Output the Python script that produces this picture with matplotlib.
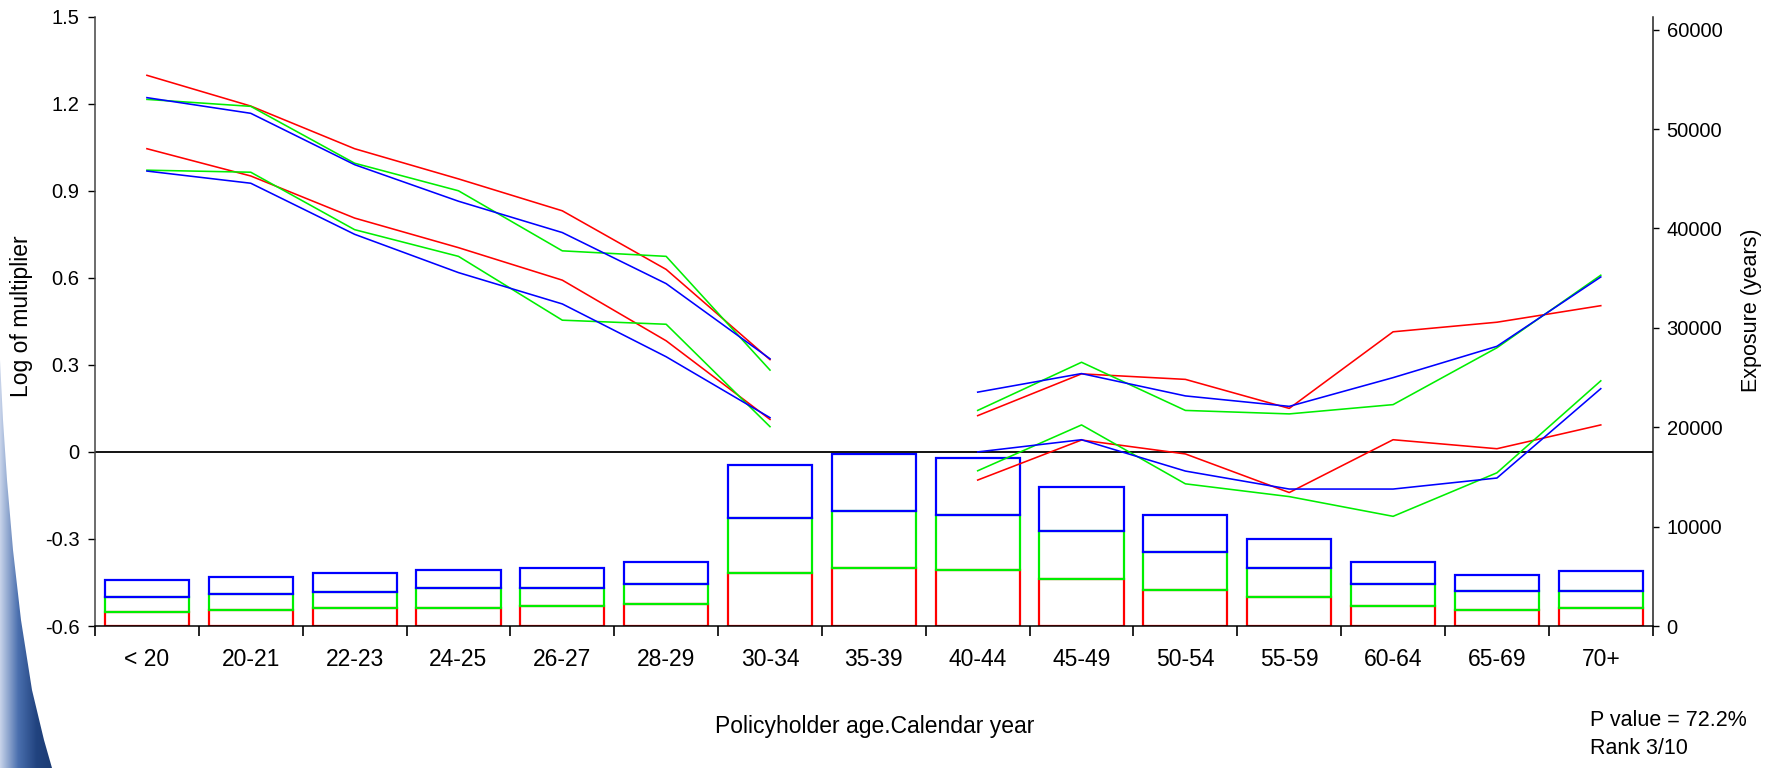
import numpy as np
import matplotlib
matplotlib.use("Agg")
import matplotlib.pyplot as plt
from matplotlib.patches import Polygon

plt.rcParams['font.family'] = ['Liberation Sans', 'DejaVu Sans']

nan = np.nan
categories = ["< 20", "20-21", "22-23", "24-25", "26-27", "28-29", "30-34", "35-39",
              "40-44", "45-49", "50-54", "55-59", "60-64", "65-69", "70+"]

# Log of multiplier confidence bands (upper / lower) for three models
red_upper   = [1.298, 1.192, 1.045, 0.941, 0.831, 0.629, 0.318, nan, 0.125, 0.269, 0.250, 0.150, 0.414, 0.447, 0.504]
green_upper = [1.215, 1.191, 0.995, 0.900, 0.693, 0.674, 0.282, nan, 0.143, 0.309, 0.143, 0.131, 0.163, 0.359, 0.609]
blue_upper  = [1.221, 1.167, 0.990, 0.864, 0.756, 0.580, 0.321, nan, 0.206, 0.270, 0.193, 0.157, 0.256, 0.364, 0.603]
red_lower   = [1.045, 0.951, 0.806, 0.704, 0.592, 0.383, 0.112, nan, -0.097, 0.041, -0.007, -0.140, 0.042, 0.011, 0.093]
green_lower = [0.971, 0.964, 0.766, 0.674, 0.454, 0.440, 0.087, nan, -0.065, 0.093, -0.110, -0.154, -0.222, -0.072, 0.245]
blue_lower  = [0.968, 0.926, 0.750, 0.618, 0.510, 0.328, 0.118, nan, 0.000, 0.042, -0.066, -0.128, -0.128, -0.090, 0.218]

# Exposure (years), stacked segments
exposure_red   = [1410, 1610, 1810, 1840, 2010, 2180, 5300, 5840, 5630, 4730, 3620, 2920, 1980, 1640, 1810]
exposure_green = [1510, 1640, 1640, 1980, 1810, 2010, 5530, 5730, 5540, 4800, 3850, 2920, 2210, 1850, 1680]
exposure_blue  = [1680, 1680, 1880, 1840, 2010, 2250, 5340, 5700, 5730, 4420, 3730, 2940, 2250, 1610, 2010]

left_ticks = [-0.6, -0.3, 0, 0.3, 0.6, 0.9, 1.2, 1.5]
left_ticklabels = ["-0.6", "-0.3", "0", "0.3", "0.6", "0.9", "1.2", "1.5"]
right_ticks = [0, 10000, 20000, 30000, 40000, 50000, 60000]

RED, GREEN, BLUE = "#ff0000", "#00ee00", "#0000ff"

W, H = 1775, 768
fig = plt.figure(figsize=(W / 100, H / 100), dpi=100)
fig.patch.set_facecolor("white")

# decorative blue swoosh at bottom-left (slide background)
bg = fig.add_axes([0, 0, 1, 1], zorder=-5)
bg.set_xlim(0, W); bg.set_ylim(H, 0); bg.axis("off")
grad = np.linspace(0, 1, 256).reshape(1, -1)
img = bg.imshow(grad, extent=[0, 55, H, 360], cmap=matplotlib.colors.LinearSegmentedColormap.from_list(
    "sw", ["#c8d4ea", "#4a6fae", "#21437f", "#1b3a72"]), aspect="auto")
clip = Polygon([(0, 360), (3, 420), (7, 480), (13, 550), (21, 620), (32, 690), (44, 740), (52, 768), (0, 768)],
               closed=True, transform=bg.transData, facecolor="none", edgecolor="none")
bg.add_patch(clip)
img.set_clip_path(clip)

x = np.arange(len(categories))
ax = fig.add_axes([95 / W, (H - 626) / H, (1652.7 - 95) / W, (626 - 16.7) / H])
ax2 = ax.twinx()
ax.set_zorder(2); ax2.set_zorder(1)
ax.patch.set_visible(False); ax2.patch.set_visible(False)

# bars (exposure)
bw = 0.81
r = np.array(exposure_red); g = np.array(exposure_green); b = np.array(exposure_blue)
ax2.bar(x, r, width=bw, fill=False, edgecolor=RED, linewidth=1.6)
ax2.bar(x, g, bottom=r, width=bw, fill=False, edgecolor=GREEN, linewidth=1.6)
ax2.bar(x, b, bottom=r + g, width=bw, fill=False, edgecolor=BLUE, linewidth=1.6)
ax2.set_ylim(0, 61300)
ax2.set_yticks(right_ticks)
ax2.set_yticklabels([str(t) for t in right_ticks])
ax2.tick_params(axis="y", direction="out", length=4, width=1, labelsize=14.5, pad=6)
ax2.set_ylabel("")

# lines (log multiplier)
ax.axhline(0, color="black", lw=1.3, zorder=1)
for vals, col in [(red_upper, RED), (red_lower, RED), (green_upper, GREEN), (green_lower, GREEN),
                  (blue_upper, BLUE), (blue_lower, BLUE)]:
    ax.plot(x, vals, color=col, lw=1.15, zorder=3)

ax.set_xlim(-0.5, len(categories) - 0.5)
ax.set_ylim(-0.6, 1.5)
ax.set_yticks(left_ticks)
ax.set_yticklabels(left_ticklabels)
ax.tick_params(axis="y", direction="out", length=5, width=1, labelsize=14.5, pad=6)
ax.set_xticks(x)
ax.set_xticklabels(categories, fontsize=16.5)
ax.tick_params(axis="x", which="major", length=0, pad=16)
ax.set_xticks(np.arange(-0.5, len(categories), 1), minor=True)
ax.tick_params(axis="x", which="minor", length=7, width=1.2, direction="out")

for a in (ax, ax2):
    a.spines["top"].set_visible(False)
ax.spines["right"].set_visible(False)
ax2.spines["left"].set_visible(False)
ax2.spines["bottom"].set_visible(False)
ax.spines["left"].set_color("#444444"); ax.spines["left"].set_linewidth(1.1)
ax.spines["bottom"].set_color("black"); ax.spines["bottom"].set_linewidth(1.1)
ax2.spines["right"].set_color("#222222"); ax2.spines["right"].set_linewidth(1.1)

fig.text(22 / W, 1 - 316 / H, "Log of multiplier", rotation=90, ha="center", va="center", fontsize=16.5)
fig.text(1752 / W, 1 - 310 / H, "Exposure (years)", rotation=90, ha="center", va="center", fontsize=15.5)
fig.text(875 / W, 1 - 726 / H, "Policyholder age.Calendar year", ha="center", va="center", fontsize=16.5)
fig.text(1590 / W, 1 - 720 / H, "P value = 72.2%", ha="left", va="center", fontsize=15.5)
fig.text(1590 / W, 1 - 748 / H, "Rank 3/10", ha="left", va="center", fontsize=15.5)

fig.savefig("out.png", dpi=100, facecolor="white")
